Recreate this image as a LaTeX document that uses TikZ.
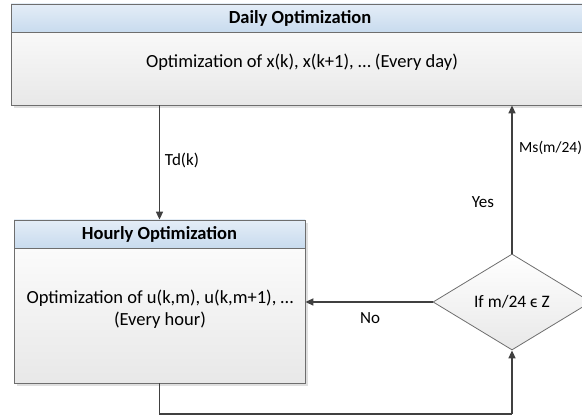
\documentclass[tikz,border=0pt]{standalone}
\usepackage{fontspec}
\setmainfont{Carlito}
\usetikzlibrary{shapes.geometric,arrows.meta,shadows}
\definecolor{bordc}{HTML}{6E6E6E}
\definecolor{linec}{HTML}{404040}
\definecolor{hdtop}{HTML}{E4EDF7}
\definecolor{hdbot}{HTML}{C8DBEE}
\definecolor{bdbot}{HTML}{E8E8E8}
\tikzset{
  bodybox/.style={draw=bordc, line width=0.8pt, inner sep=0pt, top color=white, bottom color=bdbot,
    drop shadow={shadow xshift=3pt, shadow yshift=-3pt, opacity=0.25}},
  headbox/.style={draw=bordc, line width=0.8pt, inner sep=0pt, top color=hdtop, bottom color=hdbot,
    font=\fontsize{18.5}{22}\selectfont\bfseries},
  txt/.style={font=\fontsize{18.5}{22}\selectfont, align=center, inner sep=0pt},
  lbl/.style={font=\fontsize{17}{20}\selectfont, inner sep=0pt},
  conn/.style={draw=linec, line width=1.6pt},
  arr/.style={conn, -{Triangle[width=7pt,length=8pt]}},
  decision/.style={diamond, draw=bordc, line width=0.8pt, inner sep=0pt, minimum width=158pt, minimum height=96pt,
    top color=white, bottom color=bdbot, font=\fontsize{17.5}{21}\selectfont}
}
\begin{document}
\begin{tikzpicture}[x=1pt,y=1pt]
\useasboundingbox (0,0) rectangle (582,419);
\clip (0,0) rectangle (582,419);
% Daily box
\node[bodybox, minimum width=578pt, minimum height=101pt] (daily) at (300,364.5) {};
\node[headbox, minimum width=578pt, minimum height=28pt] (dailyhead) at (300,401) {Daily Optimization};
\node[txt] (dailytxt) at (302,357) {Optimization of x(k), x(k+1), … (Every day)};
% Hourly box
\node[bodybox, minimum width=291pt, minimum height=163pt] (hourly) at (159.5,117.5) {};
\node[headbox, minimum width=291pt, minimum height=28pt] (hourlyhead) at (159.5,185) {Hourly Optimization};
\node[txt] (hourlytxt) at (160,110) {Optimization of u(k,m), u(k,m+1), …\\(Every hour)};
% Decision
\node[decision] (dec) at (512,117) {If m/24 ϵ Z};
\coordinate (loop) at (512,5);
% Connectors
\draw[arr] (daily.south -| hourly.north) -- (hourly.north);
\draw[conn] (hourly.south) -- (hourly.south |- loop) -- (loop);
\draw[arr] (loop) -- (dec.south);
\draw[arr] (dec.west) -- (dec.west -| hourly.east);
\draw[arr] (dec.north) -- (dec.north |- daily.south);
% Labels
\node[lbl] (td) at (182,259) {Td(k)};
\node[lbl, font=\fontsize{15.5}{18}\selectfont, anchor=west] (ms) at (519,271) {Ms(m/24)};
\node[lbl] (yes) at (483,217) {Yes};
\node[lbl] (no) at (370,101) {No};
\end{tikzpicture}
\end{document}
